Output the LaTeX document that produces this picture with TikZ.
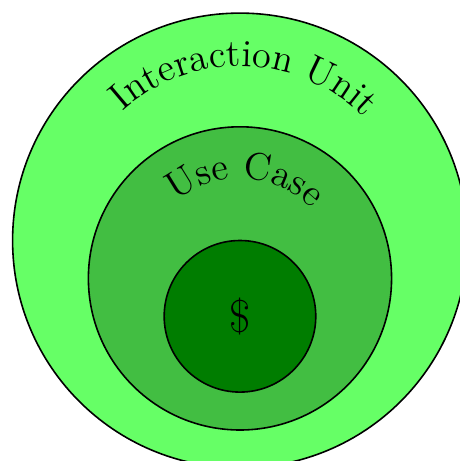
\documentclass[tikz,border=0pt]{standalone}
\usepackage{tikz}
\usetikzlibrary{decorations.text}
\definecolor{unitgreen}{RGB}{102,255,102}
\definecolor{casegreen}{RGB}{66,190,66}
\definecolor{coregreen}{RGB}{0,125,0}
\newcommand{\arclabel}[4]{\path[decorate,decoration={text along path,text align=center,text={|\Large|#4}}] #1 ++(#3+60:#2) arc (#3+60:#3-60:#2);}

\begin{document}
\begin{tikzpicture}[ring/.style={circle,draw,semithick,inner sep=0pt}]
\clip (-3.166,-2.909) rectangle (2.902,3.173);
\node[ring,fill=unitgreen,minimum size=6cm] (unit) at (0,0) {};
\node[ring,fill=casegreen,minimum size=4cm] (usecase) at (0,-0.5) {};
\node[ring,fill=coregreen,minimum size=2cm] (core) at (0,-1) {};
\node[font=\LARGE] (cash) at (core) {\$};
\arclabel{(unit.center)}{2.3}{88.5}{Interaction Unit}
\arclabel{(usecase.center)}{1.32}{87}{Use Case}
\end{tikzpicture}
\end{document}
